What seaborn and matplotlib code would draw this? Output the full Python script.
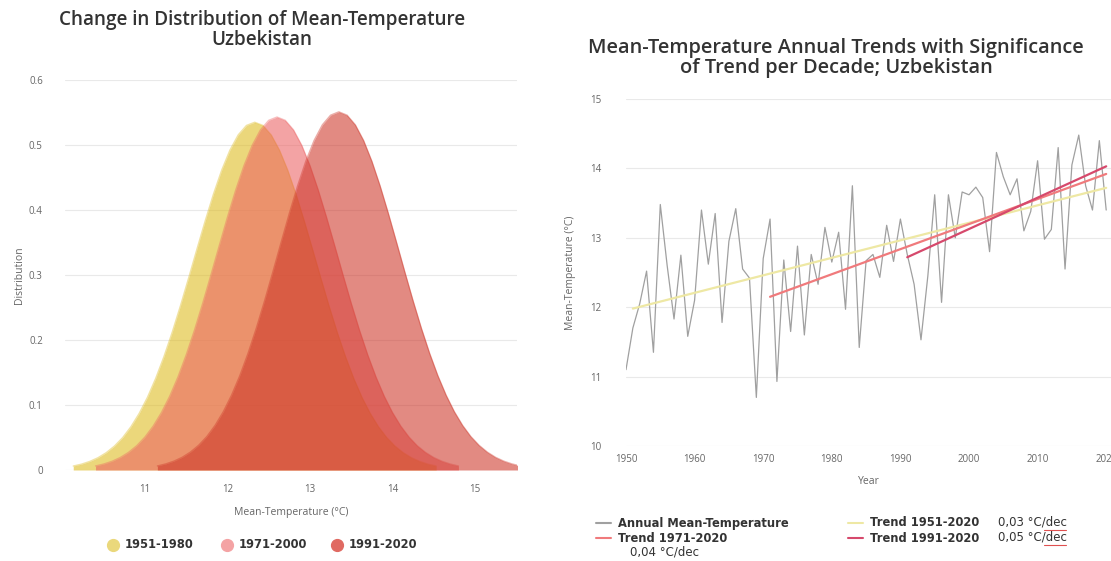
import numpy as np
import pandas as pd
import matplotlib
matplotlib.use("Agg")
import matplotlib.pyplot as plt
import seaborn as sns
from matplotlib.lines import Line2D

# ---------------- data : left chart (distribution per period) ----------------
periods = ["1951-1980", "1971-2000", "1991-2020"]
period_x_start = [10.13, 10.40, 11.15]
period_x_step = 0.1
dens_1951_1980 = [0.0061, 0.0090, 0.0132, 0.0189, 0.0267, 0.0369, 0.0500, 0.0667, 0.0872,
                  0.1119, 0.1411, 0.1746, 0.2120, 0.2528, 0.2959, 0.3400, 0.3834, 0.4245,
                  0.4614, 0.4922, 0.5156, 0.5301, 0.535, 0.5301, 0.5156, 0.4922, 0.4614,
                  0.4245, 0.3834, 0.3400, 0.2959, 0.2528, 0.2120, 0.1746, 0.1411, 0.1119,
                  0.0872, 0.0667, 0.0500, 0.0369, 0.0267, 0.0189, 0.0132, 0.0090, 0.0061]
dens_1971_2000 = [0.0062, 0.0092, 0.0134, 0.0192, 0.0271, 0.0374, 0.0508, 0.0677, 0.0885,
                  0.1136, 0.1432, 0.1772, 0.2152, 0.2566, 0.3003, 0.3450, 0.3891, 0.4308,
                  0.4683, 0.4996, 0.5233, 0.5380, 0.543, 0.5380, 0.5233, 0.4996, 0.4683,
                  0.4308, 0.3891, 0.3450, 0.3003, 0.2566, 0.2152, 0.1772, 0.1432, 0.1136,
                  0.0885, 0.0677, 0.0508, 0.0374, 0.0271, 0.0192, 0.0134, 0.0092, 0.0062]
dens_1991_2020 = [0.0062, 0.0093, 0.0136, 0.0195, 0.0275, 0.0380, 0.0515, 0.0687, 0.0898,
                  0.1153, 0.1453, 0.1798, 0.2184, 0.2604, 0.3047, 0.3501, 0.3949, 0.4372,
                  0.4752, 0.5070, 0.5310, 0.5459, 0.551, 0.5459, 0.5310, 0.5070, 0.4752,
                  0.4372, 0.3949, 0.3501, 0.3047, 0.2604, 0.2184, 0.1798, 0.1453, 0.1153,
                  0.0898, 0.0687, 0.0515, 0.0380, 0.0275, 0.0195, 0.0136, 0.0093, 0.0062]
period_colors = ["#DDBA1C", "#EC6162", "#CD3528"]
legend_dot_colors = ["#EAD87C", "#F4A3A4", "#E06A62"]
dist_yticks = [0, 0.1, 0.2, 0.3, 0.4, 0.5, 0.6]
dist_ytick_labels = ["0", "0.1", "0.2", "0.3", "0.4", "0.5", "0.6"]
dist_xticks = [11, 12, 13, 14, 15]

# ---------------- data : right chart (annual series and trends) ----------------
years = list(range(1950, 2021))
annual_temp = [11.10, 11.70, 12.05, 12.52, 11.35, 13.48, 12.60, 11.83, 12.75, 11.58,
               12.10, 13.40, 12.62, 13.35, 11.78, 12.95, 13.42, 12.55, 12.42, 10.70,
               12.70, 13.27, 10.93, 12.68, 11.65, 12.88, 11.60, 12.76, 12.33, 13.15,
               12.65, 13.08, 11.97, 13.75, 11.42, 12.67, 12.76, 12.43, 13.18, 12.66,
               13.27, 12.76, 12.33, 11.53, 12.45, 13.62, 12.07, 13.62, 13.00, 13.66,
               13.62, 13.73, 13.58, 12.80, 14.23, 13.88, 13.62, 13.85, 13.10, 13.38,
               14.11, 12.98, 13.12, 14.30, 12.55, 14.05, 14.48, 13.75, 13.40, 14.40,
               13.40]
trend_names = ["Trend 1951-2020", "Trend 1971-2020", "Trend 1991-2020"]
trend_year_start = [1951, 1971, 1991]
trend_year_end = [2020, 2020, 2020]
trend_val_start = [11.98, 12.15, 12.72]
trend_val_end = [13.72, 13.92, 14.03]
trend_rates = ["0,03 °C/dec", "0,04 °C/dec", "0,05 °C/dec"]
trend_colors = ["#EEE8A4", "#F07A7C", "#D6496C"]
annual_color = "#A0A0A0"
temp_yticks = [10, 11, 12, 13, 14, 15]
year_xticks = [1950, 1960, 1970, 1980, 1990, 2000, 2010, 2020]

# ---------------- figure ----------------
W, H = 1111, 561
sns.set_theme(style="white")
plt.rcParams["font.family"] = ["Open Sans", "DejaVu Sans"]

fig = plt.figure(figsize=(W / 100, H / 100), dpi=100)


def fx(p):
    return p / W


def fy(p):
    return 1 - p / H


def axes_px(left, top, right, bottom):
    return fig.add_axes([fx(left), fy(bottom), (right - left) / W, (bottom - top) / H])


TICK_C = "#666666"
TITLE_C = "#333333"

# ---- left chart ----
ax1 = axes_px(65, 80, 517, 470)
dens_all = [dens_1951_1980, dens_1971_2000, dens_1991_2020]
rows = []
for p, xs0, dens in zip(periods, period_x_start, dens_all):
    for i, d in enumerate(dens):
        rows.append({"period": p, "temp": round(xs0 + i * period_x_step, 3), "dens": d})
dist_df = pd.DataFrame(rows)

for k, (p, c) in enumerate(zip(periods, period_colors)):
    sub = dist_df[dist_df["period"] == p]
    ax1.fill_between(sub["temp"], sub["dens"], color=c, alpha=0.58, lw=0, zorder=2 + 2 * k)
    sns.lineplot(data=sub, x="temp", y="dens", color=c, alpha=0.4, lw=1.0, ax=ax1,
                 zorder=3 + 2 * k, legend=False)

ax1.set_xlim(10.03, 15.51)
ax1.set_ylim(0, 0.6)
ax1.set_yticks(dist_yticks)
ax1.set_yticklabels(dist_ytick_labels)
ax1.set_xticks(dist_xticks)
ax1.yaxis.grid(True, color="#E9E9E9", lw=0.8)
ax1.xaxis.grid(False)
ax1.set_axisbelow(True)
for s in ax1.spines.values():
    s.set_visible(False)
ax1.tick_params(axis="both", length=0, labelsize=7, labelcolor=TICK_C)
ax1.tick_params(axis="y", pad=16)
ax1.tick_params(axis="x", pad=10)
ax1.set_xlabel("Mean-Temperature (°C)", fontsize=7.5, color=TICK_C, labelpad=9)
ax1.set_ylabel("Distribution", fontsize=7.5, color=TICK_C, labelpad=3)

fig.text(fx(262), fy(30), "Change in Distribution of Mean-Temperature\nUzbekistan",
         ha="center", va="center", fontsize=13.6, fontweight="semibold", color=TITLE_C,
         linespacing=1.05)

# legend left
for dot_x, c, lab in zip([113, 227, 337], legend_dot_colors, periods):
    fig.add_artist(Line2D([fx(dot_x)], [fy(545)], marker="o", markersize=8.5,
                          color=c, lw=0, transform=fig.transFigure))
    fig.text(fx(dot_x + 12), fy(545), lab, ha="left", va="center", fontsize=8.3,
             fontweight="bold", color="#333333", family=["DejaVu Sans"])

# ---- right chart ----
ax2 = axes_px(626, 99, 1111, 446)
ann_df = pd.DataFrame({"year": years, "temp": annual_temp})
sns.lineplot(data=ann_df, x="year", y="temp", color=annual_color, lw=0.9, ax=ax2, zorder=3)

trend_rows = []
for n, y0, y1, v0, v1 in zip(trend_names, trend_year_start, trend_year_end,
                             trend_val_start, trend_val_end):
    trend_rows.append({"name": n, "year": y0, "val": v0})
    trend_rows.append({"name": n, "year": y1, "val": v1})
trend_df = pd.DataFrame(trend_rows)
sns.lineplot(data=trend_df, x="year", y="val", hue="name", hue_order=trend_names,
             palette=trend_colors, lw=1.6, ax=ax2, legend=False, zorder=4)

ax2.set_xlim(1950, 2020.7)
ax2.set_ylim(10, 15)
ax2.set_yticks(temp_yticks)
ax2.set_xticks(year_xticks)
ax2.yaxis.grid(True, color="#E9E9E9", lw=0.8)
ax2.xaxis.grid(False)
ax2.set_axisbelow(True)
for s in ax2.spines.values():
    s.set_visible(False)
ax2.tick_params(axis="both", length=0, labelsize=7, labelcolor=TICK_C)
ax2.tick_params(axis="y", pad=18)
ax2.tick_params(axis="x", pad=6)
ax2.set_xlabel("Year", fontsize=7.5, color=TICK_C, labelpad=8)
ax2.set_ylabel("Mean-Temperature (°C)", fontsize=7.5, color=TICK_C, labelpad=10)

fig.text(fx(836), fy(58), "Mean-Temperature Annual Trends with Significance\nof Trend per Decade; Uzbekistan",
         ha="center", va="center", fontsize=14.4, fontweight="semibold", color=TITLE_C,
         linespacing=1.0)

# legend right (manual)
leg_items = [
    (596, 523, annual_color, "Annual Mean-Temperature", None),
    (848, 523, trend_colors[0], trend_names[0], trend_rates[0]),
    (596, 538, trend_colors[1], trend_names[1], None),
    (848, 538, trend_colors[2], trend_names[2], trend_rates[2]),
]
for lx, ly, c, lab, rate in leg_items:
    fig.add_artist(Line2D([fx(lx), fx(lx + 15)], [fy(ly), fy(ly)], color=c, lw=1.5,
                          transform=fig.transFigure))
    fig.text(fx(lx + 22), fy(ly), lab, ha="left", va="center", fontsize=8.3,
             fontweight="bold", color="#333333", family=["DejaVu Sans"])
    if rate:
        fig.text(fx(998), fy(ly - 1), rate, ha="left", va="center", fontsize=8.5,
                 color="#333333", family=["DejaVu Sans"])
        # spell-check style underline under "dec" as in the screenshot
        fig.add_artist(Line2D([fx(1044), fx(1066)], [fy(ly + 7), fy(ly + 7)],
                              color="#E05050", lw=0.8, transform=fig.transFigure))
fig.text(fx(630), fy(552), trend_rates[1], ha="left", va="center", fontsize=8.5,
         color="#333333", family=["DejaVu Sans"])

fig.savefig("out.png", dpi=100)
